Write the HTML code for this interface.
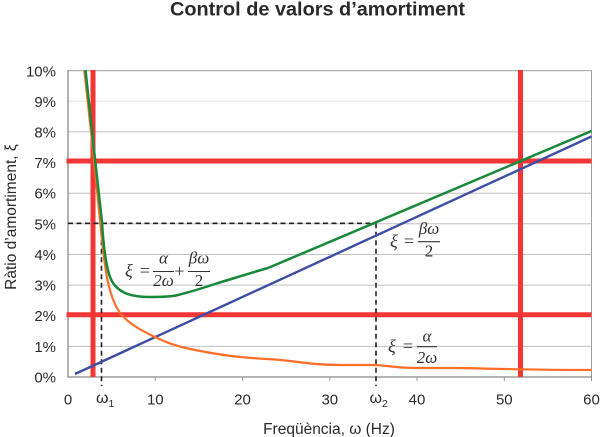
<!DOCTYPE html>
<html>
<head>
<meta charset="utf-8">
<style>
html,body{margin:0;padding:0;background:#fff;}
svg{display:block;}
.t{font-family:"Liberation Sans",Arial,sans-serif;fill:#2a2a2a;}
.m{font-family:"Liberation Serif","DejaVu Serif",serif;font-style:italic;fill:#333;}
.mu{font-family:"Liberation Serif","DejaVu Serif",serif;fill:#333;}
</style>
</head>
<body>
<svg width="600" height="437" viewBox="0 0 600 437" xmlns="http://www.w3.org/2000/svg">
<rect width="600" height="437" fill="#fff"/>
<!-- title -->
<text class="t" x="170" y="15.5" font-size="19" font-weight="bold" textLength="295" lengthAdjust="spacingAndGlyphs">Control de valors d’amortiment</text>

<!-- gridlines -->
<g stroke="#c0c0c0" stroke-width="1">
<line x1="68" y1="346.4" x2="591.5" y2="346.4"/>
<line x1="68" y1="315.7" x2="591.5" y2="315.7"/>
<line x1="68" y1="285.1" x2="591.5" y2="285.1"/>
<line x1="68" y1="254.5" x2="591.5" y2="254.5"/>
<line x1="68" y1="223.8" x2="591.5" y2="223.8"/>
<line x1="68" y1="193.2" x2="591.5" y2="193.2"/>
<line x1="68" y1="162.6" x2="591.5" y2="162.6"/>
<line x1="68" y1="131.9" x2="591.5" y2="131.9"/>
<line x1="68" y1="101.3" x2="591.5" y2="101.3" stroke="#e2e2e2"/>
</g>
<!-- plot border -->
<rect x="68" y="70.7" width="523.5" height="306.3" fill="none" stroke="#a0a0a0" stroke-width="1"/>
<line x1="68" y1="70" x2="68" y2="377.5" stroke="#888" stroke-width="1.3"/>
<line x1="67.5" y1="377" x2="592" y2="377" stroke="#888" stroke-width="1.3"/>
<!-- x ticks -->
<g stroke="#999" stroke-width="1">
<line x1="155.3" y1="377" x2="155.3" y2="381"/>
<line x1="242.5" y1="377" x2="242.5" y2="381"/>
<line x1="329.8" y1="377" x2="329.8" y2="381"/>
<line x1="417" y1="377" x2="417" y2="381"/>
<line x1="504.3" y1="377" x2="504.3" y2="381"/>
<line x1="591.5" y1="377" x2="591.5" y2="381"/>
</g>

<!-- red lines -->
<g stroke="#f23535" stroke-width="5">
<line x1="66.5" y1="161" x2="591.5" y2="161"/>
<line x1="66.5" y1="314.8" x2="591.5" y2="314.8"/>
<line x1="93" y1="70" x2="93" y2="377"/>
<line x1="520.5" y1="70" x2="520.5" y2="377"/>
</g>

<!-- dashed lines -->
<g stroke="#222" stroke-width="1.6" stroke-dasharray="5,3.5" fill="none">
<line x1="68" y1="223.3" x2="376" y2="223.3"/>
<line x1="376" y1="223.3" x2="376" y2="386"/>
<line x1="101.5" y1="223.3" x2="101.5" y2="386"/>
</g>

<!-- series -->
<polyline fill="none" stroke="#3d4ea5" stroke-width="2.4" points="75,374 591.5,136.5"/>
<path fill="none" stroke="#ff6d27" stroke-width="2.2" stroke-linejoin="round" d="M84.3,70 L93,150 L100,220 C102,240 104,265 108,282 C111,295 114,304 120,313 C128,323 140,330 155,337 C165,342 175,346 190,349 C205,352 220,355 240,357 C260,359 275,359 290,361 C305,363 320,365 340,365 L375,365 C390,366 400,368 415,368 L460,368 C500,369 540,370 591.5,370"/>
<path fill="none" stroke="#17893b" stroke-width="2.5" stroke-linejoin="round" d="M85.5,70 L94,150 L102,222 C103,240 105,260 109,274 C112,284 117,289 125,293 C132,296 140,297 151,297 C160,297 170,297 178,295 C190,292 200,289 218,283 C235,278 250,273 268,268 L591.5,131"/>

<!-- y tick labels -->
<g class="t" font-size="15" text-anchor="end">
<text x="56" y="76.5">10%</text>
<text x="56" y="106.8">9%</text>
<text x="56" y="137.4">8%</text>
<text x="56" y="168.1">7%</text>
<text x="56" y="198.7">6%</text>
<text x="56" y="229.3">5%</text>
<text x="56" y="260">4%</text>
<text x="56" y="290.6">3%</text>
<text x="56" y="321.2">2%</text>
<text x="56" y="351.9">1%</text>
<text x="56" y="382.5">0%</text>
</g>
<!-- x tick labels -->
<g class="t" font-size="15" text-anchor="middle">
<text x="68" y="404.5">0</text>
<text x="155.3" y="404.5">10</text>
<text x="242.5" y="404.5">20</text>
<text x="329.8" y="404.5">30</text>
<text x="417" y="404.5">40</text>
<text x="504.3" y="404.5">50</text>
<text x="591.5" y="404.5">60</text>
</g>
<text class="t" x="96" y="403" font-size="16">ω<tspan font-size="10.5" dy="4">1</tspan></text>
<text class="t" x="369.5" y="403" font-size="16">ω<tspan font-size="10.5" dy="4">2</tspan></text>

<!-- axis titles -->
<text class="t" x="329" y="434" font-size="15.5" text-anchor="middle">Freqüència, ω (Hz)</text>
<text class="t" transform="translate(16,217) rotate(-90)" font-size="15.5" text-anchor="middle">Ràtio d’amortiment, ξ</text>

<!-- formula 1 -->
<g>
<text class="m" x="125" y="276.5" font-size="18">ξ</text>
<text class="mu" x="145" y="276.5" font-size="18" text-anchor="middle">=</text>
<line x1="153" y1="271.5" x2="174" y2="271.5" stroke="#333" stroke-width="1.1"/>
<text class="m" x="163.5" y="263.5" font-size="17" text-anchor="middle">α</text>
<text class="m" x="163.5" y="286" font-size="17" text-anchor="middle">2ω</text>
<text class="mu" x="179.5" y="277" font-size="18" text-anchor="middle">+</text>
<line x1="188" y1="271.5" x2="210" y2="271.5" stroke="#333" stroke-width="1.1"/>
<text class="m" x="199" y="263.5" font-size="17" text-anchor="middle">βω</text>
<text class="mu" x="199" y="286" font-size="17" text-anchor="middle">2</text>
</g>
<!-- formula 2 -->
<g>
<text class="m" x="390" y="247" font-size="18">ξ</text>
<text class="mu" x="409" y="247" font-size="18" text-anchor="middle">=</text>
<line x1="418" y1="241.7" x2="440" y2="241.7" stroke="#333" stroke-width="1.1"/>
<text class="m" x="429" y="234" font-size="17" text-anchor="middle">βω</text>
<text class="mu" x="429" y="256.5" font-size="17" text-anchor="middle">2</text>
</g>
<!-- formula 3 -->
<g>
<text class="m" x="388" y="352" font-size="18">ξ</text>
<text class="mu" x="408" y="352" font-size="18" text-anchor="middle">=</text>
<line x1="417" y1="346.7" x2="437" y2="346.7" stroke="#333" stroke-width="1.1"/>
<text class="m" x="427" y="341.5" font-size="17" text-anchor="middle">α</text>
<text class="m" x="427" y="363" font-size="17" text-anchor="middle">2ω</text>
</g>
</svg>
</body>
</html>
